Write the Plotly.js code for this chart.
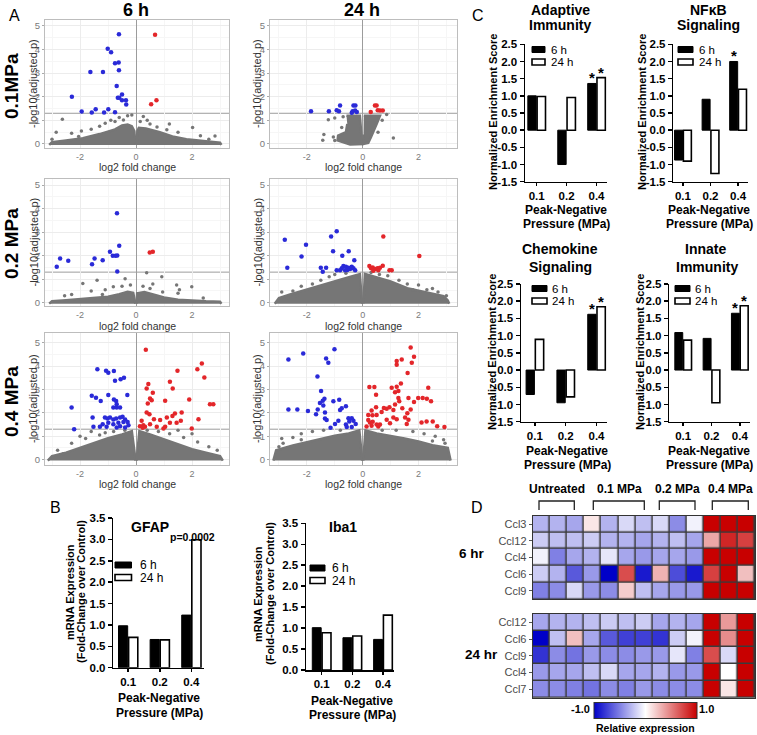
<!DOCTYPE html>
<html><head><meta charset="utf-8">
<script src="https://cdn.plot.ly/plotly-3.0.1.min.js"></script>
<style>html,body{margin:0;padding:0;background:#fff}#chart{width:757px;height:735px}</style>
</head><body><div id="chart"></div>
<script>
// ================= DATA =================
// Panel A volcano plots: points as [log2 fold change, -log10(adjusted p)]
const a6h01Blue = [[-0.61,4.65],[-1.01,4.03],[-0.89,3.88],[-0.75,3.42],[-0.62,3.45],[-0.61,3.12],[-1.63,3.05],[-1.18,3.05],[-0.69,2.46],[-0.50,2.10],[-0.65,1.96],[-0.60,1.96],[-0.50,1.85],[-0.36,1.85],[-0.35,1.67],[-2.29,2.0],[-1.94,1.38],[-1.58,1.33],[-1.44,1.47],[-1.14,1.33],[-0.99,1.47],[-0.75,1.34]];
const a6h01Red = [[0.68,4.63],[0.73,1.85],[0.54,1.68]];
const a6h01Gray = [[-2.63,1.05],[-2.85,0.5],[-2.3,0.45],[-1.95,0.55],[-1.6,0.62],[-1.3,0.75],[-1.1,0.88],[-0.9,1.0],[-0.6,1.12],[-0.3,1.2],[-0.15,1.23],[-0.45,1.02],[0.26,1.16],[0.15,0.95],[0.5,0.85],[0.75,0.72],[1.19,0.85],[1.5,0.5],[2.02,0.7],[2.3,0.35],[2.82,0.34],[2.6,0.2],[1.1,0.6],[-2.05,0.32],[-3.0,0.2],[-0.75,0.95],[0.4,1.0]];
const a6h01CloudL = [[-3.1,-0.04],[-3.0,0.08],[-2.5,0.15],[-1.9,0.24],[-1.3,0.42],[-1.0,0.52],[-0.75,0.62],[-0.5,0.78],[-0.3,0.82],[-0.15,0.75],[-0.06,0.55],[-0.02,-0.04]];
const a6h01CloudR = [[0.02,-0.04],[0.05,0.55],[0.1,0.68],[0.35,0.66],[0.85,0.5],[1.3,0.32],[1.8,0.2],[2.5,0.1],[3.0,0.05],[3.05,-0.04]];

const a24h01Blue = [[-1.85,1.39],[-1.21,1.39],[-0.93,1.43],[-0.85,1.39],[-0.81,1.63],[-0.33,1.63],[-0.26,1.63],[-0.36,1.39],[-0.27,1.42],[-0.21,1.35],[-0.39,1.32]];
const a24h01Red = [[0.44,1.63],[0.50,1.63],[0.54,1.43],[0.62,1.42],[0.72,1.42],[0.29,1.35]];
const a24h01Gray = [[-1.39,0.4],[-1.43,0.16],[-1.23,1.03],[-1.0,1.1],[0.86,1.25],[1.1,0.25],[-1.05,0.3],[0.7,1.0],[-0.7,1.15],[-0.75,0.7],[0.55,0.5],[-1.0,0.15]];
const a24h01CloudL = [[-0.58,1.2],[-0.1,1.2],[-0.04,0.3],[-0.02,0.0],[-0.45,-0.02],[-0.9,0.15],[-0.88,0.35],[-0.6,0.5],[-0.55,0.85]];
const a24h01CloudR = [[0.04,1.2],[0.62,1.2],[0.5,0.85],[0.42,0.6],[0.3,0.3],[0.2,0.05],[0.02,0.0],[0.03,0.4]];

const a6h02Blue = [[-0.68,3.80],[-0.60,2.42],[-0.93,2.17],[-0.83,2.0],[-0.73,2.0],[-0.67,2.01],[-1.19,1.81],[-1.48,1.88],[-1.57,1.64],[-2.42,1.78],[-2.71,1.88],[-2.83,1.53],[-0.67,1.33]];
const a6h02Red = [[0.49,2.14],[0.60,2.17]];
const a6h02Gray = [[0.38,1.27],[-0.39,1.02],[0.92,1.1],[-1.39,0.95],[-1.9,0.82],[-0.81,0.68],[1.45,0.75],[1.99,0.68],[1.5,0.4],[1.55,0.55],[0.6,0.8],[0.5,0.6],[-1.1,0.55],[-1.6,0.5],[-2.3,0.35],[-2.55,0.3],[-0.5,0.7],[-1.2,0.35],[2.4,0.2],[0.95,0.45],[-0.2,0.75],[0.25,0.7]];
const a6h02CloudL = [[-3.1,-0.04],[-3.0,0.06],[-2.5,0.1],[-2.0,0.14],[-1.5,0.2],[-1.0,0.25],[-0.6,0.36],[-0.3,0.46],[-0.1,0.42],[-0.03,0.1],[-0.02,-0.04]];
const a6h02CloudR = [[0.02,-0.04],[0.04,0.4],[0.3,0.45],[0.6,0.36],[1.0,0.22],[1.5,0.13],[2.0,0.08],[2.5,0.06],[3.0,0.04],[3.05,-0.04]];

const a24h02Blue = [[-0.93,3.04],[-1.13,2.81],[-2.79,2.68],[-2.03,2.46],[-2.19,1.96],[-1.06,2.19],[-0.50,2.19],[-0.73,2.0],[-0.30,1.81],[-2.70,1.49],[-1.50,1.49],[-1.31,1.49],[-1.43,1.32],[-0.69,1.56],[-0.6,1.53],[-0.51,1.49],[-0.45,1.43],[-0.55,1.39],[-0.63,1.38],[-0.81,1.38],[-0.93,1.38],[-0.39,1.53],[-0.33,1.46],[-0.27,1.38],[-0.75,1.46]];
const a24h02Red = [[0.74,2.81],[2.03,1.99],[0.24,1.56],[0.30,1.46],[0.36,1.50],[0.44,1.43],[0.53,1.46],[0.62,1.49],[0.72,1.57],[0.96,1.38],[1.04,1.38],[0.38,1.36],[0.56,1.38]];
const a24h02Gray = [[-2.9,0.45],[-2.5,0.5],[-2.2,0.7],[-1.8,0.8],[-1.5,0.95],[-1.2,1.1],[-2.7,0.2],[2.5,0.6],[2.7,0.45],[2.0,0.75],[1.8,0.55],[1.3,0.95],[0.9,1.15],[0.6,1.2],[2.85,0.15],[3.0,0.3],[-0.6,1.25],[0.3,1.28],[-2.35,0.3],[-1.0,1.2],[1.6,0.8],[2.3,0.55]];
const a24h02CloudL = [[-3.15,-0.04],[-3.0,0.2],[-2.6,0.35],[-2.0,0.55],[-1.4,0.75],[-0.8,0.98],[-0.4,1.12],[-0.1,1.22],[-0.04,0.25],[-0.02,-0.04]];
const a24h02CloudR = [[0.02,-0.04],[0.04,0.25],[0.08,1.22],[0.4,1.12],[1.0,0.9],[1.6,0.62],[2.3,0.42],[2.9,0.28],[3.05,0.1],[3.1,-0.04]];

const a6h04Blue = [[-1.38,3.86],[-1.07,3.80],[-0.99,3.71],[-0.79,3.79],[-0.75,3.37],[-0.55,3.43],[-0.43,3.50],[-0.99,2.76],[-1.58,2.73],[-1.43,2.64],[-1.26,2.50],[-0.79,2.57],[-0.71,2.50],[-0.31,2.76],[-2.30,2.23],[-0.81,2.23],[-0.69,2.23],[-0.57,2.23],[-0.69,2.37],[-2.21,1.30],[-1.55,1.80],[-1.11,1.8],[-1.02,1.76],[-0.93,1.8],[-0.81,1.71],[-0.71,1.76],[-0.57,1.8],[-0.48,1.83],[-0.39,1.71],[-0.30,1.61],[-0.45,1.61],[-0.63,1.57],[-0.81,1.51],[-0.99,1.57],[-1.19,1.51],[-1.29,1.4],[-1.52,1.4],[-0.57,1.43],[-0.27,1.47],[-0.39,1.37],[-0.69,1.37],[-1.05,1.4]];
const a6h04Red = [[0.35,4.69],[2.35,4.11],[2.19,3.86],[2.44,3.51],[1.48,3.80],[1.21,3.33],[1.31,3.04],[0.44,3.23],[0.38,3.04],[0.60,2.86],[0.50,2.61],[0.56,2.54],[0.42,2.40],[1.04,2.51],[1.90,2.57],[2.64,2.37],[2.76,2.37],[1.63,2.01],[1.39,1.97],[1.30,1.86],[2.23,1.73],[1.99,1.33],[0.38,2.01],[0.48,1.94],[0.64,1.73],[0.86,1.69],[1.10,1.80],[1.21,1.57],[1.45,1.57],[1.60,1.66],[0.20,1.66],[0.26,1.47],[0.14,1.43],[0.32,1.40],[0.50,1.51],[0.74,1.40],[0.98,1.33],[1.04,1.40],[0.24,1.36]];
const a6h04Gray = [[-2.8,0.4],[-2.3,0.7],[-1.8,0.9],[-1.3,1.05],[-0.8,1.2],[-2.0,1.0],[1.2,1.1],[1.7,0.95],[2.2,0.75],[2.6,0.55],[2.9,0.4],[2.0,1.1],[0.8,1.2],[-1.6,1.2],[1.5,1.25],[2.7,0.2],[-2.6,0.25],[-0.4,1.25],[0.4,1.25],[-1.1,1.15],[2.95,0.1]];
const a6h04CloudL = [[-3.15,-0.04],[-3.0,0.15],[-2.5,0.3],[-2.0,0.5],[-1.5,0.72],[-1.0,0.92],[-0.5,1.08],[-0.15,1.22],[-0.05,0.3],[-0.02,-0.04]];
const a6h04CloudR = [[0.02,-0.04],[0.05,0.3],[0.12,1.22],[0.5,1.08],[1.0,0.88],[1.5,0.68],[2.0,0.45],[2.5,0.3],[3.0,0.15],[3.1,-0.04]];

const a24h04Blue = [[-1.01,4.72],[-2.13,4.53],[-2.66,4.28],[-1.31,4.32],[-1.23,4.14],[-1.62,3.55],[-1.49,2.93],[-1.37,2.60],[-1.43,2.52],[-1.53,2.42],[-1.05,2.49],[-0.84,2.56],[-1.41,2.31],[-0.75,2.19],[-0.81,2.12],[-0.60,2.28],[-2.66,2.14],[-2.34,2.14],[-1.96,2.08],[-1.61,2.14],[-1.67,1.94],[-1.35,2.01],[-1.35,1.76],[-1.29,1.69],[-0.87,1.66],[-0.51,1.77],[-0.39,1.77],[-0.48,1.63],[-0.33,1.66],[-0.60,1.50],[-0.25,1.52],[-0.99,1.52],[-1.15,1.36],[-0.57,1.39],[-0.39,1.39]];
const a24h04Red = [[1.72,4.79],[1.84,4.39],[1.40,4.28],[1.22,4.21],[1.22,4.05],[1.76,4.14],[1.61,3.70],[0.24,3.10],[0.42,3.10],[0.48,2.77],[1.04,3.07],[1.37,3.25],[1.22,3.11],[1.28,2.93],[1.28,2.63],[1.16,2.88],[2.35,3.07],[1.64,2.63],[1.99,2.63],[2.15,2.63],[2.30,2.60],[2.45,2.49],[1.31,2.49],[1.16,2.35],[1.84,2.46],[0.86,2.17],[0.96,2.24],[0.48,2.24],[0.76,2.21],[0.68,2.03],[0.32,2.10],[0.20,1.91],[0.35,1.90],[0.50,1.91],[1.10,2.12],[1.42,2.19],[1.72,2.14],[1.60,1.98],[1.10,1.80],[1.22,1.73],[1.52,1.80],[1.64,1.70],[2.11,1.59],[2.29,1.63],[2.51,1.63],[2.67,1.43],[2.93,1.39],[0.20,1.69],[0.36,1.62],[0.86,1.70],[0.50,1.50],[0.62,1.50],[0.56,1.41],[0.14,1.41],[0.26,1.59],[0.98,1.55],[1.58,1.52],[0.32,1.45]];
const a24h04Gray = [[-2.9,0.9],[-2.5,0.95],[-2.2,1.1],[-1.8,1.2],[-1.4,1.25],[2.2,1.1],[2.6,1.0],[2.9,0.85],[1.8,1.2],[1.2,1.25],[-2.85,0.7],[2.95,0.7],[-0.8,1.25],[0.7,1.25],[-3.0,0.55],[2.5,0.8],[-2.2,0.85]];
const a24h04CloudL = [[-3.2,-0.04],[-3.1,0.4],[-2.5,0.6],[-2.0,0.75],[-1.5,0.9],[-1.0,1.02],[-0.5,1.12],[-0.12,1.25],[-0.04,0.3],[-0.02,-0.04]];
const a24h04CloudR = [[0.02,-0.04],[0.04,0.3],[0.1,1.25],[0.5,1.12],[1.0,1.02],[1.5,0.9],[2.0,0.78],[2.5,0.62],[3.05,0.5],[3.15,-0.04]];

// Panel B: mRNA expression (fold change over control)
const pressures = ['0.1','0.2','0.4'];
const gfap6h = [0.98, 0.66, 1.23];
const gfap24h = [0.71, 0.65, 2.99];
const iba6h = [1.01, 0.77, 0.73];
const iba24h = [0.89, 0.81, 1.31];
const bTicks = [0, 0.5, 1.0, 1.5, 2.0, 2.5, 3.0, 3.5];

// Panel C: normalized enrichment score
const adaptive6h = [1.00, -1.00, 1.36];
const adaptive24h = [0.98, 0.95, 1.53];
const nfkb6h = [-0.87, 0.90, 2.00];
const nfkb24h = [-0.90, -1.26, 1.19];
const chemokine6h = [-0.71, -0.95, 1.62];
const chemokine24h = [0.89, -0.78, 1.84];
const innate6h = [1.09, 0.92, 1.65];
const innate24h = [0.87, -0.95, 1.87];
const cTicks = [-1.5, -1.0, -0.5, 0, 0.5, 1.0, 1.5, 2.0, 2.5];

// Panel D: relative expression heatmaps (13 samples: 3 untreated, 4 x 0.1, 3 x 0.2, 3 x 0.4 MPa)
const genes6 = ['Ccl3','Ccl12','Ccl4','Ccl6','Ccl9'];
const heat6 = [
  [-0.30,-0.30,-0.35, 0.10,-0.30,-0.15,-0.25,-0.15,-0.45,-0.05, 1.00, 1.00, 1.00],
  [-0.20,-0.25,-0.25,-0.20,-0.30,-0.30,-0.35,-0.30,-0.25,-0.35, 0.35, 0.85, 0.75],
  [-0.05,-0.50,-0.35,-0.30,-0.10,-0.35,-0.40,-0.35,-0.35,-0.40, 1.00, 1.00, 1.00],
  [-0.20,-0.30,-0.65,-0.40,-1.00, 0.70,-0.90, 0.30,-0.70,-0.90, 0.75, 1.00, 0.25],
  [-0.50,-0.45,-0.15,-0.40,-0.45, 0.20,-0.25,-0.35,-0.40,-0.40, 1.00, 1.00, 1.00]
];
const genes24 = ['Ccl12','Ccl6','Ccl9','Ccl4','Ccl7'];
const heat24 = [
  [-0.35,-0.30,-0.30,-0.25,-0.20,-0.25,-0.20,-0.35,-0.30,-0.35, 1.00, 0.40, 1.00],
  [-1.00,-0.25, 0.25,-0.35,-0.65,-0.75,-0.75,-0.80,-0.20,-0.05, 1.00, 0.45, 1.00],
  [-0.80,-0.45,-0.55,-0.40,-0.45,-0.45,-0.40,-0.40,-0.10,-0.50, 0.70,-0.15, 1.00],
  [-0.40,-0.35,-0.35,-0.25,-0.15,-0.35,-0.35,-0.30,-0.40,-0.40, 1.00, 0.00, 1.00],
  [-0.45,-0.45,-0.50,-0.55,-0.45,-0.50,-0.40,-0.45,-0.45,-0.45, 1.00, 0.10, 1.00]
];
const groupLabels = ['Untreated','0.1 MPa','0.2 MPa','0.4 MPa'];

// ================= DRAWING =================
const FONT = '"Liberation Sans", Arial, sans-serif';
const W = 757, H = 735;
const GRAY = '#767676', BLUE = '#2a2ad8', RED = '#e3262a';
const dX = (a,b) => [a/W, b/W];
const dY = (top,bot) => [1-bot/H, 1-top/H];
const sfx = n => (n===1 ? '' : String(n));
const traces = [], annotations = [], shapes = [];
const layout = {
  width: W, height: H, margin: {l:0,r:0,t:0,b:0}, showlegend: false,
  paper_bgcolor: '#fff', plot_bgcolor: '#fff', barmode: 'overlay',
  font: {family: FONT, color: '#000'}
};
function ann(text, x, y, o) {
  o = o || {};
  annotations.push({text, x: x/W, y: 1-y/H, xref:'paper', yref:'paper', showarrow:false,
    xanchor: o.xa || 'center', yanchor: o.ya || 'middle', textangle: o.angle || 0,
    font: {family: FONT, size: o.size || 12, color: o.color || '#000', weight: o.bold ? 'bold' : 'normal'}});
}

// ---- Panel A ----
const volc = [
  {b:a6h01Blue, r:a6h01Red, g:a6h01Gray, cl:a6h01CloudL, cr:a6h01CloudR, xd:[45,229], yd:[20,148], xr:[-3.25,3.32], yr:[-0.17,5.25], ytx:33, xty:167},
  {b:a24h01Blue, r:a24h01Red, g:a24h01Gray, cl:a24h01CloudL, cr:a24h01CloudR, xd:[270,457], yd:[20,148], xr:[-3.32,3.38], yr:[-0.17,5.25], ytx:257, xty:167},
  {b:a6h02Blue, r:a6h02Red, g:a6h02Gray, cl:a6h02CloudL, cr:a6h02CloudR, xd:[45,229], yd:[179,306], xr:[-3.25,3.32], yr:[-0.14,5.26], ytx:33, xty:326},
  {b:a24h02Blue, r:a24h02Red, g:a24h02Gray, cl:a24h02CloudL, cr:a24h02CloudR, xd:[270,457], yd:[179,306], xr:[-3.32,3.38], yr:[-0.14,5.26], ytx:257, xty:326},
  {b:a6h04Blue, r:a6h04Red, g:a6h04Gray, cl:a6h04CloudL, cr:a6h04CloudR, xd:[45,229], yd:[333,465], xr:[-3.25,3.32], yr:[-0.23,5.41], ytx:33, xty:484},
  {b:a24h04Blue, r:a24h04Red, g:a24h04Gray, cl:a24h04CloudL, cr:a24h04CloudR, xd:[270,457], yd:[333,465], xr:[-3.32,3.38], yr:[-0.23,5.41], ytx:257, xty:484}
];
volc.forEach((p, i) => {
  const n = i+1, xa = 'x'+sfx(n), ya = 'y'+sfx(n);
  [p.cl, p.cr].forEach(poly => traces.push({type:'scatter', mode:'lines', x: poly.map(q=>q[0]), y: poly.map(q=>q[1]),
    fill:'toself', fillcolor: GRAY, line:{color: GRAY, width: 2.5}, xaxis: xa, yaxis: ya, hoverinfo:'skip'}));
  traces.push({type:'scatter', mode:'markers', x: p.g.map(q=>q[0]), y: p.g.map(q=>q[1]),
    marker:{size:3.5, color: GRAY}, xaxis: xa, yaxis: ya});
  traces.push({type:'scatter', mode:'markers', x: p.b.map(q=>q[0]), y: p.b.map(q=>q[1]),
    marker:{size:4.5, color: BLUE}, xaxis: xa, yaxis: ya});
  traces.push({type:'scatter', mode:'markers', x: p.r.map(q=>q[0]), y: p.r.map(q=>q[1]),
    marker:{size:4.5, color: RED}, xaxis: xa, yaxis: ya});
  layout['xaxis'+sfx(n)] = {domain: dX(p.xd[0], p.xd[1]), range: p.xr, anchor: ya,
    tickvals:[-2,0,2], ticktext:['-2','0','2'], ticks:'',
    tickfont:{size:9, color:'#7a7a7a'}, showgrid:true, gridcolor:'#ececec',
    minor:{tickvals:[-3,-1,1,3], showgrid:true, gridcolor:'#f6f6f6', ticks:''},
    zeroline:true, zerolinecolor:'#9c9c9c', zerolinewidth:1,
    showline:true, mirror:true, linecolor:'#bdbdbd', linewidth:1, fixedrange:true};
  layout['yaxis'+sfx(n)] = {domain: dY(p.yd[0], p.yd[1]), range: p.yr, anchor: xa,
    tickvals:[0,1,2,3,4,5], ticks:'outside', ticklen:2, tickcolor:'#aaa',
    tickfont:{size:9.5, color:'#7a7a7a'}, showgrid:true, gridcolor:'#ececec',
    minor:{tickvals:[0.5,1.5,2.5,3.5,4.5], showgrid:true, gridcolor:'#f6f6f6', ticks:''},
    zeroline:false, showline:true, mirror:true, linecolor:'#bdbdbd', linewidth:1, fixedrange:true};
  shapes.push({type:'line', xref: xa+' domain', yref: ya, x0:0, x1:1, y0:1.3, y1:1.3,
    line:{color:'#9c9c9c', width:1}, layer:'below'});
  ann('-log10(adjusted p)', p.ytx, (p.yd[0]+p.yd[1])/2, {size:11, angle:-90, color:'#333'});
  ann('log2 fold change', (p.xd[0]+p.xd[1])/2, p.xty, {size:10.5, color:'#333'});
});
ann('A', 14, 15, {size:16});
ann('6 h', 136, 10, {size:18, bold:true});
ann('24 h', 362, 10, {size:18, bold:true});
ann('0.1MPa', 11, 86, {size:19, bold:true, angle:-90});
ann('0.2 MPa', 11, 244, {size:19, bold:true, angle:-90});
ann('0.4 MPa', 11, 402, {size:19, bold:true, angle:-90});

// ---- Panels B and C: bar charts ----
const bars = [
  {n:7, s6:gfap6h, s24:gfap24h, xd:[113.3,204], yd:[518,667.7], xr:[-0.47,2.4], yr:[0,3.5], w:0.29, tk:bTicks},
  {n:8, s6:iba6h, s24:iba24h, xd:[306,394], yd:[523.3,670], xr:[-0.51,2.36], yr:[0,3.5], w:0.29, tk:bTicks},
  {n:9, s6:adaptive6h, s24:adaptive24h, xd:[525,606.7], yd:[44.3,181.7], xr:[-0.39,2.34], yr:[-1.5,2.5], w:0.28, stars:[true,true], tk:cTicks},
  {n:10, s6:nfkb6h, s24:nfkb24h, xd:[673.3,748], yd:[44.3,181.7], xr:[-0.35,2.36], yr:[-1.5,2.5], w:0.29, stars:[true,false], tk:cTicks},
  {n:11, s6:chemokine6h, s24:chemokine24h, xd:[521,606.7], yd:[284,421.7], xr:[-0.45,2.33], yr:[-1.5,2.5], w:0.27, stars:[true,true], tk:cTicks},
  {n:12, s6:innate6h, s24:innate24h, xd:[669.3,750], yd:[284,421.7], xr:[-0.49,2.36], yr:[-1.5,2.5], w:0.28, stars:[true,true], tk:cTicks}
];
const catIdx = pressures.map((_, i) => i);
bars.forEach(p => {
  const xa = 'x'+p.n, ya = 'y'+p.n;
  traces.push({type:'bar', x: catIdx, y: p.s6, width: p.w, offset: -p.w-0.015,
    marker:{color:'#000', line:{color:'#000', width:1}}, xaxis: xa, yaxis: ya});
  traces.push({type:'bar', x: catIdx, y: p.s24, width: p.w, offset: 0.015,
    marker:{color:'#fff', line:{color:'#000', width:1.6}}, xaxis: xa, yaxis: ya});
  const tf = {family: FONT, size: 11.5, color:'#000', weight:'bold'};
  layout['xaxis'+p.n] = {domain: dX(p.xd[0], p.xd[1]), range: p.xr, anchor: ya,
    tickvals: catIdx, ticktext: pressures, ticks:'outside', ticklen:3, tickwidth:1.5, tickcolor:'#000',
    showline:true, linecolor:'#000', linewidth:1.5, showgrid:false, zeroline:false, tickfont: tf, fixedrange:true};
  layout['yaxis'+p.n] = {domain: dY(p.yd[0], p.yd[1]), range: p.yr, anchor: xa,
    tickvals: p.tk, ticktext: p.tk.map(v => v.toFixed(1)), ticks:'outside', ticklen:4, tickwidth:1.5, tickcolor:'#000',
    showline:true, linecolor:'#000', linewidth:1.5, showgrid:false, zeroline:false, tickfont: tf, fixedrange:true};
  if (p.stars) {
    if (p.stars[0]) annotations.push({text:'*', xref: xa, yref: ya, x: 2-p.w/2-0.015, y: p.s6[2], yanchor:'bottom', yshift:-5,
      showarrow:false, font:{family:FONT, size:15, weight:'bold'}});
    if (p.stars[1]) annotations.push({text:'*', xref: xa, yref: ya, x: 2+p.w/2+0.015, y: p.s24[2], yanchor:'bottom', yshift:-5,
      showarrow:false, font:{family:FONT, size:15, weight:'bold'}});
  }
});
function legendBox(x0, x1, yBlack, yWhite, tx, fs) {
  shapes.push({type:'rect', xref:'paper', yref:'paper', x0:x0/W, x1:x1/W, y0:1-(yBlack+3)/H, y1:1-(yBlack-3)/H,
    fillcolor:'#000', line:{color:'#000', width:1}});
  shapes.push({type:'rect', xref:'paper', yref:'paper', x0:x0/W, x1:x1/W, y0:1-(yWhite+3)/H, y1:1-(yWhite-3)/H,
    fillcolor:'#fff', line:{color:'#000', width:1.6}});
  ann('6 h', tx, yBlack, {xa:'left', size: fs || 12});
  ann('24 h', tx, yWhite, {xa:'left', size: fs || 12});
}
// Panel B texts
ann('B', 55, 507, {size:16});
ann('GFAP', 150, 527, {size:14, bold:true});
ann('p=0.0002', 192, 537, {size:10.5, bold:true});
legendBox(115, 131.5, 565, 577.5, 138);
ann('mRNA Expression', 70, 592, {size:11, bold:true, angle:-90});
ann('(Fold-Change over Control)', 81, 592, {size:11, bold:true, angle:-90});
ann('Peak-Negative', 159, 698, {size:12, bold:true});
ann('Pressure (MPa)', 159, 713, {size:12, bold:true});
ann('Iba1', 343, 527, {size:14, bold:true});
legendBox(310, 325, 568, 580.5, 330);
ann('mRNA Expression', 258, 594, {size:11, bold:true, angle:-90});
ann('(Fold-Change over Control)', 270, 594, {size:11, bold:true, angle:-90});
ann('Peak-Negative', 352, 701, {size:12, bold:true});
ann('Pressure (MPa)', 352, 715, {size:12, bold:true});
// Panel C texts
ann('C', 478, 15, {size:16});
ann('Adaptive', 560, 10, {size:14, bold:true});
ann('Immunity', 560, 25, {size:14, bold:true});
ann('NFκB', 708, 10, {size:14, bold:true});
ann('Signaling', 708, 25, {size:14, bold:true});
ann('Chemokine', 560, 249, {size:14, bold:true});
ann('Signaling', 560, 267, {size:14, bold:true});
ann('Innate', 705, 249, {size:14, bold:true});
ann('Immunity', 707, 267, {size:14, bold:true});
legendBox(532, 545, 49.5, 62, 549, 11.5);
legendBox(678, 693, 49.5, 62, 697, 11.5);
legendBox(532, 547, 288.5, 301, 550, 11.5);
legendBox(675, 690, 288.5, 301, 693, 11.5);
ann('Normalized Enrichment Score', 493, 112, {size:11, bold:true, angle:-90});
ann('Normalized Enrichment Score', 642, 112, {size:11, bold:true, angle:-90});
ann('Normalized Enrichment Score', 492, 352, {size:11, bold:true, angle:-90});
ann('Normalized Enrichment Score', 640, 352, {size:11, bold:true, angle:-90});
[[566,210,224],[709,210,224],[567,451,465],[709,451,465]].forEach(t => {
  ann('Peak-Negative', t[0], t[1], {size:12, bold:true});
  ann('Pressure (MPa)', t[0], t[2], {size:12, bold:true});
});

// ---- Panel D: heatmaps ----
const cscale = [[0,'#0000c8'],[0.5,'#ffffff'],[1,'#c80000']];
const samples = heat6[0].map((_, i) => i);
[{n:13, z:heat6, g:genes6, yd:[515.7,599.3], scale:true},
 {n:14, z:heat24, g:genes24, yd:[614,697.7], scale:false}].forEach(p => {
  const xa = 'x'+p.n, ya = 'y'+p.n;
  traces.push({type:'heatmap', z: p.z, x: samples, y: p.g, zmin:-1, zmax:1, colorscale: cscale,
    xgap:1.5, ygap:1.5, showscale: p.scale, xaxis: xa, yaxis: ya,
    colorbar: {orientation:'h', x: 645.5/W, xanchor:'center', y: 1-711/H, yanchor:'middle',
      len:103, lenmode:'pixels', thickness:16, thicknessmode:'pixels', showticklabels:false, ticks:'',
      outlinewidth:1, outlinecolor:'#333', xpad:0, ypad:0}});
  shapes.push({type:'rect', xref: xa+' domain', yref: ya+' domain', x0:0, x1:1, y0:0, y1:1,
    fillcolor:'#3a3a3a', line:{width:0}, layer:'below'});
  layout['xaxis'+p.n] = {domain: dX(532.7, 755), range:[-0.5,12.5], anchor: ya, showticklabels:false, ticks:'',
    showgrid:false, zeroline:false, showline:true, mirror:true, linecolor:'#333', linewidth:1, fixedrange:true};
  layout['yaxis'+p.n] = {domain: dY(p.yd[0], p.yd[1]), type:'category', autorange:'reversed', anchor: xa,
    ticks:'outside', ticklen:3, tickcolor:'#555', tickfont:{size:11, color:'#4a4a4a'},
    showgrid:false, zeroline:false, showline:true, mirror:true, linecolor:'#333', linewidth:1, fixedrange:true};
});
ann('D', 477, 507, {size:16});
ann('6 hr', 472, 553, {size:13.5, bold:true});
ann('24 hr', 481, 654, {size:13.5, bold:true});
const groupX = [557, 619, 677, 730];
groupLabels.forEach((t, i) => ann(t, groupX[i], 489, {size:12, bold:true}));
[[539,574.3],[593.3,644.3],[659.3,695],[712.3,748.3]].forEach(b => {
  shapes.push({type:'path', xref:'paper', yref:'paper',
    path:`M ${b[0]/W} ${1-510/H} L ${b[0]/W} ${1-501/H} L ${b[1]/W} ${1-501/H} L ${b[1]/W} ${1-510/H}`,
    line:{color:'#222', width:1.3}});
});
ann('-1.0', 580, 709, {size:11, bold:true});
ann('1.0', 706, 709, {size:11, bold:true});
ann('Relative expression', 645, 728, {size:10.5, bold:true});

layout.annotations = annotations;
layout.shapes = shapes;
Plotly.newPlot('chart', traces, layout, {staticPlot:true, displayModeBar:false});
</script>
</body></html>
